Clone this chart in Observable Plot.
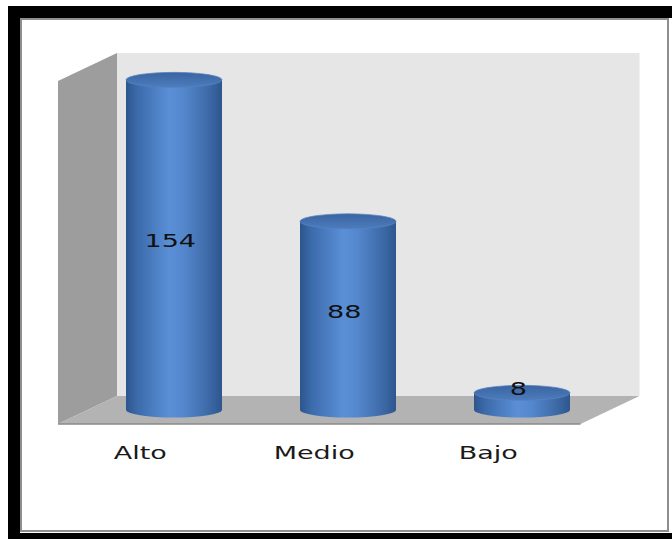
<!DOCTYPE html>
<html>
<head>
<meta charset="utf-8">
<script src="https://cdn.jsdelivr.net/npm/d3@7"></script>
<script src="https://cdn.jsdelivr.net/npm/@observablehq/plot@0.6"></script>
<style>
  html, body { margin: 0; padding: 0; background: #fff; }
  body { width: 672px; height: 539px; overflow: hidden; position: relative; font-family: "DejaVu Sans", sans-serif; }
  #black { position: absolute; left: 8px; top: 6px; width: 664px; height: 533px; background: #000; }
  #panel { position: absolute; left: 20px; top: 18px; width: 652px; height: 515px; background: #fff; }
  #border { position: absolute; left: 20px; top: 18px; width: 649px; height: 514px; box-sizing: border-box; border: 2px solid #8e8e8e; }
  #chart { position: absolute; left: 0; top: 0; }
</style>
</head>
<body>
<div id="black"></div>
<div id="panel"></div>
<div id="border"></div>
<div id="chart"></div>
<script>
// ---- data ----
const categories = ["Alto", "Medio", "Bajo"];
const values = [154, 88, 8];
const yMax = 160;

const data = categories.map((c, i) => ({category: c, value: values[i]}));

// ---- style constants ----
const stretch = 1.5;          // the original chart is stretched horizontally
const plotW = 672 / stretch;
const depthX = 29.5 / stretch; // half-depth offset of the 3D box (px)
const depthY = 14;
const ry = 7.5;               // ellipse half-height of cylinder caps

function svgEl(tag, attrs) {
  const e = document.createElementNS("http://www.w3.org/2000/svg", tag);
  for (const k in attrs) e.setAttribute(k, attrs[k]);
  return e;
}

// walls & floor, drawn from the scales' ranges
function walls(index, {x, y}) {
  const g = svgEl("g", {});
  const [x0, x1] = x.range();
  const yt = y(yMax), yb = y(0);
  const pts = a => a.map(p => p.join(",")).join(" ");
  g.appendChild(svgEl("polygon", {fill: "#e6e6e6", points: pts([[x0 + depthX, yt - depthY], [x1 + depthX, yt - depthY], [x1 + depthX, yb - depthY], [x0 + depthX, yb - depthY]])}));
  g.appendChild(svgEl("polygon", {fill: "#9d9d9d", points: pts([[x0 - depthX, yt + depthY], [x0 + depthX, yt - depthY], [x0 + depthX, yb - depthY], [x0 - depthX, yb + depthY]])}));
  g.appendChild(svgEl("polygon", {fill: "#b3b3b3", points: pts([[x0 - depthX, yb + depthY], [x1 - depthX, yb + depthY], [x1 + depthX, yb - depthY], [x0 + depthX, yb - depthY]])}));
  g.appendChild(svgEl("line", {x1: x0 - depthX, y1: yb + depthY, x2: x1 - depthX, y2: yb + depthY, stroke: "#8a8a8a", "stroke-width": 1.5}));
  return g;
}

// cylinders, drawn from the data through the scales
function cylinders(index, {x, y}) {
  const g = svgEl("g", {});
  const defs = svgEl("defs", {});
  const body = svgEl("linearGradient", {id: "cylBody", x1: "0", x2: "1", y1: "0", y2: "0"});
  [[0, "#2d558d"], [0.12, "#3c6bab"], [0.45, "#5a8fd7"], [0.6, "#5487cd"], [0.85, "#3e6ba8"], [1, "#2e568e"]]
    .forEach(([o, c]) => body.appendChild(svgEl("stop", {offset: o, "stop-color": c})));
  const top = svgEl("linearGradient", {id: "cylTop", x1: "0", x2: "0", y1: "0", y2: "1"});
  [[0, "#3a64a0"], [1, "#4d7cbd"]]
    .forEach(([o, c]) => top.appendChild(svgEl("stop", {offset: o, "stop-color": c})));
  defs.appendChild(body); defs.appendChild(top);
  g.appendChild(defs);
  const bw = x.bandwidth();
  const rx = bw / 2;
  for (const d of data) {
    const cx = x(d.category) + rx;
    const yt = y(d.value), yb = y(0);
    g.appendChild(svgEl("path", {
      fill: "url(#cylBody)",
      d: `M${cx - rx},${yt} L${cx - rx},${yb} A${rx},${ry} 0 0 0 ${cx + rx},${yb} L${cx + rx},${yt} Z`
    }));
    g.appendChild(svgEl("ellipse", {cx, cy: yt, rx, ry, fill: "url(#cylTop)", stroke: "#5583c2", "stroke-width": 0.6}));
  }
  return g;
}

const svg = Plot.plot({
  width: plotW,
  height: 539,
  marginLeft: 87.5 / stretch,
  marginRight: plotW - 610 / stretch,
  marginTop: 67,
  marginBottom: 129,
  style: {background: "transparent", fontFamily: "DejaVu Sans, sans-serif", overflow: "visible"},
  x: {type: "band", domain: categories, paddingInner: 0.446, paddingOuter: 0.222},
  y: {domain: [0, yMax], axis: null},
  marks: [
    walls,
    cylinders,
    Plot.text(data, {
      x: "category",
      y: d => d.value >= 20 ? d.value / 2 : d.value,
      text: d => String(d.value),
      dx: -3,
      dy: -4,
      fontSize: 18,
      fill: "#111"
    }),
    Plot.axisX({tickSize: 0, tickPadding: 36, dx: -23, fontSize: 18, color: "#1a1a1a", label: null})
  ]
});

svg.setAttribute("width", 672);
svg.setAttribute("height", 539);
svg.setAttribute("preserveAspectRatio", "none");
svg.style.width = "672px";
svg.style.height = "539px";
svg.style.maxWidth = "none";
document.getElementById("chart").appendChild(svg);
</script>
</body>
</html>
